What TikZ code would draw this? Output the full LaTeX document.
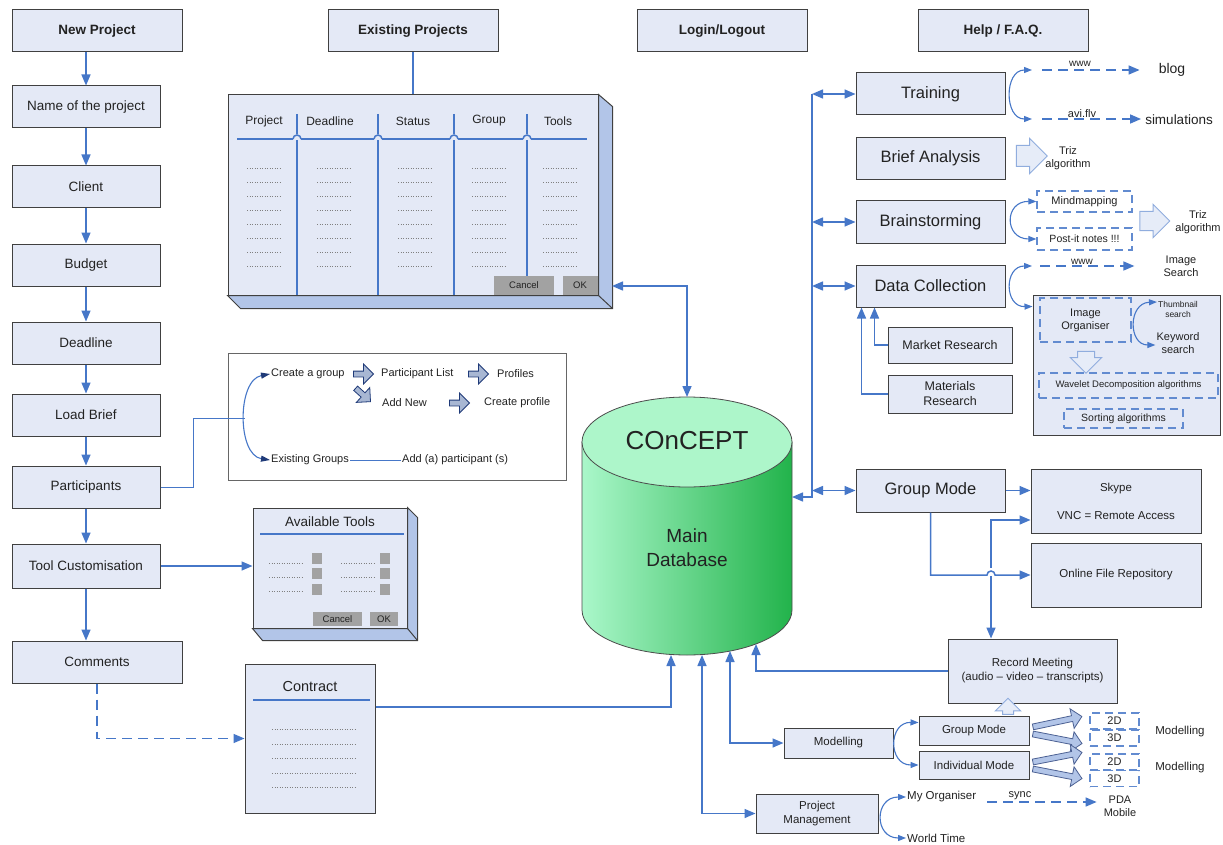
\documentclass[tikz,border=0pt]{standalone}
\usepackage{fontspec}
\setmainfont{Liberation Sans}
\usetikzlibrary{arrows.meta,shapes.arrows,positioning}

\definecolor{boxfill}{HTML}{E4E9F6}
\definecolor{boxline}{HTML}{404040}
\definecolor{linkblue}{HTML}{4677C8}
\definecolor{sideblue}{HTML}{B2C5E8}
\definecolor{btngray}{HTML}{A2A2A2}
\definecolor{navyblue}{HTML}{1F3A78}
\definecolor{dblight}{HTML}{AAF7CA}
\definecolor{dbdark}{HTML}{22B34B}
\definecolor{dbtop}{HTML}{ADF6CA}
\definecolor{hollowfill}{HTML}{E6ECF8}
\definecolor{txtgray}{HTML}{222222}

\begin{document}
\begin{tikzpicture}[x=1pt, y=-1pt,
    every node/.style={text=txtgray},
    box/.style={draw=boxline, fill=boxfill, line width=1pt, inner sep=2pt, align=center},
    headbox/.style={box, minimum width=170pt, minimum height=42pt, font=\fontsize{13.5}{16}\selectfont\bfseries},
    leftbox/.style={box, minimum width=148pt, minimum height=42pt, font=\fontsize{13.5}{16}\selectfont},
    rightbox/.style={box, minimum width=149pt, minimum height=42pt, font=\fontsize{16.5}{19}\selectfont},
    smallbox/.style={box, font=\fontsize{11.5}{14}\selectfont},
    dashbox/.style={draw=linkblue!85, line width=1.2pt, dash pattern=on 8pt off 5pt, inner sep=1pt, align=center, font=\fontsize{11}{13}\selectfont},
    lbl/.style={inner sep=1pt, align=center, font=\fontsize{11}{13}\selectfont},
    btnbox/.style={fill=btngray, inner sep=0pt, font=\fontsize{9.5}{11}\selectfont},
    conn/.style={draw=linkblue, line width=1.5pt},
    flow/.style={conn, -{Triangle[length=11pt,width=9pt]}},
    flowboth/.style={conn, {Triangle[length=11pt,width=9pt]}-{Triangle[length=11pt,width=9pt]}},
    dflow/.style={flow, dash pattern=on 10pt off 6pt},
    fork/.style={draw=linkblue, line width=1.1pt, {Triangle[length=8pt,width=6pt]}-{Triangle[length=8pt,width=6pt]}},
    navyfork/.style={draw=linkblue, line width=1.1pt, {Triangle[length=9pt,width=6pt,color=navyblue]}-{Triangle[length=9pt,width=6pt,color=navyblue]}},
    hollowarr/.style={single arrow, draw=linkblue!60, fill=hollowfill, line width=1pt, inner xsep=0pt, inner ysep=9pt},
    grparr/.style={single arrow, draw=navyblue, fill=sideblue!80!gray, line width=0.8pt, inner xsep=0pt, inner ysep=2.5pt, minimum height=20pt, minimum width=11pt},
    chevron/.style={single arrow, draw=navyblue!80, fill=sideblue, line width=0.8pt, inner xsep=0pt, inner ysep=2.5pt, minimum height=50pt, minimum width=11pt},
    dotrow/.style={draw=gray, line width=0.8pt, dash pattern=on 1pt off 1.5pt}
    ]
  \fill[white] (0,0) rectangle (1223,845);
  \useasboundingbox (0,0) rectangle (1223,845);

  % new project column
  \node[headbox] (newproj) at (97,31) {New Project};
  \node[leftbox] (projname) at (86,107) {Name of the project};
  \node[leftbox] (client) at (86,187) {Client};
  \node[leftbox] (budget) at (86,265) {Budget};
  \node[leftbox] (deadline) at (86,343) {Deadline};
  \node[leftbox] (loadbrief) at (86,415) {Load Brief};
  \node[leftbox] (participants) at (86,487) {Participants};
  \node[leftbox, minimum height=44pt] (toolcust) at (86,566) {Tool Customisation};
  \node[headbox, font=\fontsize{13.5}{16}\selectfont] (comments) at (97,662) {Comments};
  \foreach \a/\b in {newproj/projname, projname/client, client/budget, budget/deadline,
      deadline/loadbrief, loadbrief/participants, participants/toolcust, toolcust/comments}
    \draw[flow] (\a.south -| projname.south) -- (\b.north -| projname.south);

  \node[headbox] (existing) at (413,31) {Existing Projects};
  \node[headbox] (login) at (722,31) {Login/Logout};
  \node[headbox] (help) at (1003,31) {Help / F.A.Q.};

  % existing projects window
  \node[box, minimum width=370pt, minimum height=200pt] (projtable) at (413,195) {};
  \draw[boxline, line width=1pt, fill=sideblue] (projtable.north east) -- ++(14,12) |- ([shift={(13,13)}]projtable.south west)
    -- (projtable.south west) -- (projtable.south east) -- cycle;
  \draw[boxline, line width=1pt] (projtable.south east) -- ++(14,13);
  \draw[conn] (existing) -- (projtable);
  \foreach \x/\t [count=\i] in {264/Project, 330/Deadline, 413/Status, 489/Group, 558/Tools}
    \node[lbl, font=\fontsize{12}{14}\selectfont] (colhead\i) at (\x,121) {\t};
  \draw[conn] (237,139) -- (587,139);
  \foreach \x in {297,378,454,527} {
    \draw[conn] (\x,114) -- (\x,295);
    \fill[boxfill] (\x-4,140) rectangle (\x+4,134);
    \draw[conn] (\x-4,139) arc[start angle=180, end angle=360, radius=4];
  }
  \foreach \x in {264,334,415,489,560}
    \foreach \y in {168,182,...,268}
      \draw[dotrow] (\x-17,\y) -- (\x+17,\y);
  \node[btnbox, minimum width=60pt, minimum height=19pt] (tblcancel) at (524,285) {Cancel};
  \node[btnbox, minimum width=35pt, minimum height=19pt] (tblok) at (580,285) {OK};

  % main database
  \path[draw=black!70, line width=0.8pt, left color=dblight, right color=dbdark]
    (582,442) -- (582,610) arc[start angle=180, end angle=0, x radius=105, y radius=45] -- (792,442) -- cycle;
  \draw[black!70, line width=0.8pt, fill=dbtop] (687,442) ellipse [x radius=105, y radius=45];
  \node[font=\fontsize{26}{30}\selectfont, inner sep=0pt] (dbname) at (687,441) {COnCEPT};
  \node[font=\fontsize{19}{24}\selectfont, align=center] (dbsub) at (687,548) {Main\\Database};
  \coordinate (dbtop) at (687,397);
  \coordinate (dbright) at (792,497);
  \coordinate (dbbot1) at (671,655);
  \coordinate (dbbot2) at (702,655);
  \coordinate (dbbot3) at (730,651);
  \coordinate (dbbot4) at (756,644);
  \coordinate (tblport) at (612,286);
  \draw[flowboth] (tblport) -| (dbtop);

  % group panel
  \node[draw=gray!80!black, fill=white, line width=0.8pt, minimum width=338pt, minimum height=127pt] (grouppanel) at (397,416.5) {};
  \node[lbl, anchor=west] (creategrp) at (270,374) {Create a group};
  \node[lbl, anchor=west] (partlist) at (380,374) {Participant List};
  \node[lbl, anchor=west] (profiles) at (496,374) {Profiles};
  \node[lbl, anchor=west] (addnew) at (381,403) {Add New};
  \node[lbl, anchor=west] (createprof) at (483,403) {Create profile};
  \node[lbl, anchor=west] (existgrp) at (270,460) {Existing Groups};
  \node[lbl, anchor=west] (addpart) at (401,460) {Add (a) participant (s)};
  \node[grparr] (garr1) at (362,374) {};
  \node[grparr] (garr2) at (477,374) {};
  \node[grparr] (garr3) at (458,403) {};
  \node[grparr, rotate=-42] (garr4) at (362,394) {};
  \draw[conn, line width=1pt] (existgrp) -- (addpart);
  \draw[navyfork] (creategrp.west) .. controls (237,380) and (237,455) .. (existgrp.west);
  \coordinate (grpfork) at (245,418);
  \draw[conn, line width=1pt] (participants.east) -- ++(33,0) |- (grpfork);

  % tools window
  \node[box, minimum width=154pt, minimum height=120pt] (toolwin) at (330,568) {};
  \draw[boxline, line width=1pt, fill=sideblue] (toolwin.north east) -- ++(10,10) |- ([shift={(10,12)}]toolwin.south west)
    -- (toolwin.south west) -- (toolwin.south east) -- cycle;
  \draw[boxline, line width=1pt] (toolwin.south east) -- ++(10,12);
  \node[font=\fontsize{13.5}{16}\selectfont] (tooltitle) at (330,522) {Available Tools};
  \draw[conn] (260,534) -- (404,534);
  \foreach \y in {563,577,591} {
    \draw[dotrow] (269,\y) -- (303,\y);
    \draw[dotrow] (341,\y) -- (375,\y);
  }
  \foreach \y in {558,573,589} {
    \fill[btngray] (312,\y-5.5) rectangle (322,\y+5.5);
    \fill[btngray] (380,\y-5.5) rectangle (390,\y+5.5);
  }
  \node[btnbox, minimum width=49pt, minimum height=14pt] (toolcancel) at (337.5,619) {Cancel};
  \node[btnbox, minimum width=28pt, minimum height=14pt] (toolok) at (384,619) {OK};
  \draw[flow] (toolcust.east) -- (toolcust.east -| toolwin.west);

  % contract
  \node[box, minimum width=130pt, minimum height=149pt] (contract) at (310,738.5) {};
  \node[font=\fontsize{14.5}{17}\selectfont] (contitle) at (310,687) {Contract};
  \draw[conn] (253,700) -- (370,700);
  \foreach \y in {729,744,758,773,787} \draw[dotrow] (272,\y) -- (355,\y);
  \draw[dflow] (comments.south) |- (contract.west);
  \draw[flow] ([yshift=31.5pt]contract.east) -| (dbbot1);

  % right hand modules
  \coordinate (bus) at (812,94);
  \node[rightbox] (training) at (930.5,94) {Training};
  \node[rightbox] (brief) at (930.5,158.5) {Brief Analysis};
  \node[rightbox] (brainst) at (930.5,222) {Brainstorming};
  \node[rightbox] (datacoll) at (930.5,286) {Data Collection};
  \node[rightbox, minimum height=43pt] (groupmode) at (930.5,490.5) {Group Mode};
  \draw[flow] (bus) -- (bus |- dbright) -- (dbright);
  \foreach \m in {training, brainst, datacoll, groupmode}
    \draw[flowboth] (\m.west -| bus) -- (\m.west);

  % training
  \node[font=\fontsize{14}{16}\selectfont, inner sep=1pt] (blog) at (1172,70) {blog};
  \node[font=\fontsize{13.5}{16}\selectfont, inner sep=1pt] (simul) at (1179,120) {simulations};
  \coordinate (trtop) at (1032,70);
  \coordinate (trbot) at (1032,119);
  \draw[fork] (trtop) .. controls (1004,70) and (1004,119) .. (trbot);
  \node[lbl, font=\fontsize{10}{12}\selectfont] (www1) at (1080,64) {www};
  \node[lbl, font=\fontsize{11}{13}\selectfont] (aviflv) at (1082,114) {avi.flv};
  \draw[dflow, shorten >=18pt] ([xshift=10pt]trtop) -- (blog.west);
  \draw[dflow, shorten >=3pt] ([xshift=10pt]trbot) -- (simul.west |- trbot);

  % brief analysis
  \node[hollowarr, inner ysep=10pt, minimum height=31pt, minimum width=32pt] (briefarr) at (1026.5,156) {};
  \node[lbl] (triz1) at (1068,158) {Triz\\algorithm};

  % brainstorming
  \node[dashbox, minimum width=95pt, minimum height=21pt] (mindmap) at (1084.5,201.5) {Mindmapping};
  \node[dashbox, minimum width=95pt, minimum height=22pt, font=\fontsize{10.5}{12}\selectfont] (postit) at (1084.5,239) {Post-it notes !!!};
  \draw[fork] (mindmap.west) .. controls (1004,201) and (1004,239) .. (postit.west);
  \node[hollowarr, minimum height=30pt, minimum width=32pt] (brainarr) at (1150,221) {};
  \node[lbl] (triz2) at (1198,222) {Triz\\algorithm};

  % data collection
  \coordinate (dcwww) at (1032,266);
  \node[box, minimum width=187pt, minimum height=140pt] (imgpanel) at (1126.5,365) {};
  \draw[fork] (dcwww) .. controls (1004,266) and (1004,307) .. ([yshift=-12pt]imgpanel.north west);
  \node[lbl, font=\fontsize{10}{12}\selectfont] (www2) at (1082,262) {www};
  \node[lbl] (imgsearch) at (1181,266) {Image\\Search};
  \draw[dflow, shorten >=28pt] ([xshift=8pt]dcwww) -- (imgsearch.west);
  \node[dashbox, minimum width=91pt, minimum height=44pt] (imgorg) at (1085.5,320) {Image\\Organiser};
  \node[lbl, font=\fontsize{8.5}{10}\selectfont] (thumb) at (1178,309) {Thumbnail\\search};
  \node[lbl] (keyw) at (1178,343) {Keyword\\search};
  \draw[fork] ([yshift=7pt]thumb.west) .. controls (1128,303) and (1128,345) .. ([yshift=-2pt]keyw.west);
  \node[hollowarr, inner ysep=8pt, rotate=-90, minimum height=22pt, minimum width=28pt] (orgarr) at (1086,358) {};
  \node[dashbox, minimum width=179pt, minimum height=25pt, font=\fontsize{9.5}{11}\selectfont] (wavelet) at (1128.5,385.5) {Wavelet Decomposition algorithms};
  \node[dashbox, minimum width=119pt, minimum height=19pt, font=\fontsize{10.5}{12}\selectfont] (sorting) at (1123.5,418.5) {Sorting algorithms};
  \node[box, minimum width=124pt, minimum height=36pt, font=\fontsize{12.5}{15}\selectfont] (market) at (950,345) {Market Research};
  \node[box, minimum width=124pt, minimum height=38pt, font=\fontsize{12.5}{15}\selectfont] (materials) at (950,394) {Materials\\Research};
  \draw[flow] (market.west) -| ([xshift=19pt]datacoll.south west);
  \draw[flow] (materials.west) -| ([xshift=6pt]datacoll.south west);

  % group mode
  \node[smallbox, minimum width=170pt, minimum height=64pt] (skype) at (1116,501) {Skype\\[14pt]VNC = Remote Access};
  \node[smallbox, minimum width=170pt, minimum height=64pt] (online) at (1116,575) {Online File Repository};
  \node[smallbox, minimum width=169pt, minimum height=64pt] (record) at (1032.5,671) {Record Meeting\\(audio -- video -- transcripts)};
  \draw[flowboth] ([yshift=-19pt]skype.west) -| ([xshift=-41.5pt]record.north);
  \draw[flow] (groupmode.east) -- (groupmode.east -| skype.west);
  \fill[white] (986,576) rectangle (996,568);
  \draw[flow] (groupmode.south) |- (987,575) arc[start angle=180, end angle=360, radius=4] -- (online.west);
  \draw[flow] (record.west) -| (dbbot4);

  % modelling
  \node[smallbox, minimum width=109pt, minimum height=30pt] (modelling) at (838.5,743) {Modelling};
  \draw[flowboth] (dbbot3) |- (modelling.west);
  \node[smallbox, minimum width=110pt, minimum height=29pt] (gmode) at (974,730.5) {Group Mode};
  \node[smallbox, minimum width=110pt, minimum height=28pt] (imode) at (974,765) {Individual Mode};
  \draw[fork] ([yshift=8pt]gmode.west) .. controls (888,722) and (888,765) .. (imode.west);
  \node[hollowarr, inner ysep=5pt, rotate=90, minimum height=16pt, minimum width=18pt] (recarr) at (1008,709) {};
  \foreach \y/\r [count=\i] in {722/12, 738.5/-11, 757.5/11, 773.5/-11}
    \node[chevron, rotate=\r] (chev\i) at (1056,\y) {};
  \foreach \y/\t [count=\i] in {721/2D, 738/3D, 762/2D, 778.5/3D}
    \node[dashbox, minimum width=49pt, minimum height=16pt] (dim\i) at (1114.5,\y) {\t};
  \node[lbl, font=\fontsize{11.5}{14}\selectfont] (modlbl1) at (1180,732) {Modelling};
  \node[lbl, font=\fontsize{11.5}{14}\selectfont] (modlbl2) at (1180,768) {Modelling};

  % project management
  \node[smallbox, minimum width=122pt, minimum height=39pt] (projmgmt) at (817,813.5) {Project\\Management};
  \draw[flowboth] (dbbot2) |- (projmgmt.west);
  \node[lbl, anchor=west, font=\fontsize{11.5}{14}\selectfont] (myorg) at (906,797) {My Organiser};
  \node[lbl, anchor=west, font=\fontsize{11.5}{14}\selectfont] (worldtime) at (906,838) {World Time};
  \draw[fork] (myorg.west) .. controls (874,797) and (874,838) .. (worldtime.west);
  \node[lbl] (synclbl) at (1020,796) {sync};
  \node[lbl] (pda) at (1120,806) {PDA\\Mobile};
  \draw[dflow, shorten <=10pt, shorten >=6pt] ([yshift=-5pt]myorg.east) -- ([yshift=4pt]pda.west);
\end{tikzpicture}
\end{document}
